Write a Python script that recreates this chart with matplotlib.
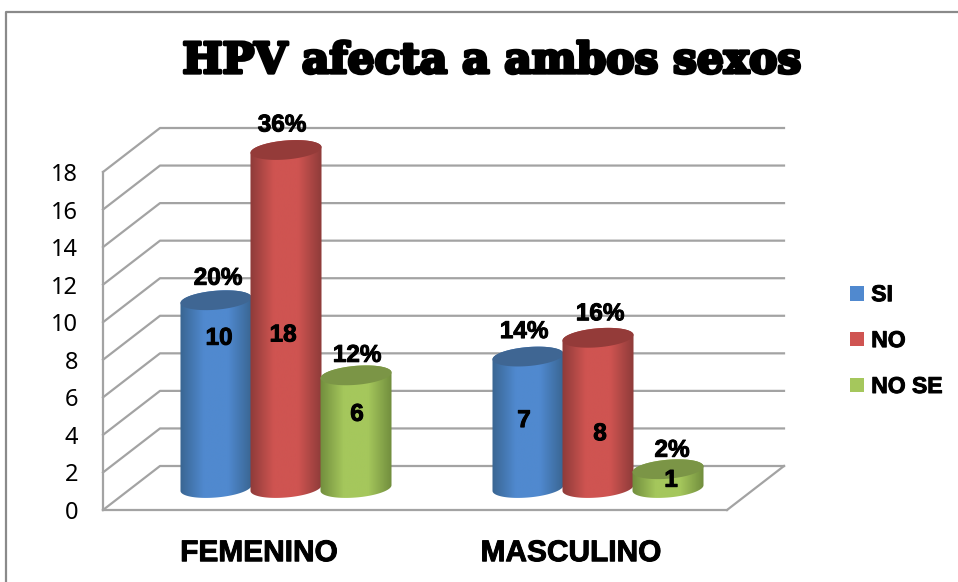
import numpy as np
import matplotlib
matplotlib.use("Agg")
import matplotlib.pyplot as plt
import matplotlib.patheffects as pe
from matplotlib.colors import LinearSegmentedColormap
from matplotlib.lines import Line2D
from matplotlib.patches import Patch, Polygon

categories = ["FEMENINO", "MASCULINO"]
series = ["SI", "NO", "NO SE"]
si_values = [10, 7]
no_values = [18, 8]
nose_values = [6, 1]
si_percent = ["20%", "14%"]
no_percent = ["36%", "16%"]
nose_percent = ["12%", "2%"]
y_ticks = [0, 2, 4, 6, 8, 10, 12, 14, 16, 18]

W, H = 958, 582
GREY = "#a3a3a3"

# colours: edge of cylinder, middle of cylinder, top ellipse
colors = [("#38648f", "#5089cf", "#3f6693"),
          ("#8b3a38", "#cf5451", "#943b39"),
          ("#6f8b3c", "#a5c75c", "#7b9546")]

# label nudges in pixels, one per bar (x, y down from the bar top)
value_nudge = [[(3, 38), (-4, 64)], [(-3, 185), (2, 96)], [(1, 39), (3, 11)]]
pct_nudge = [[(2, 22), (-4, 25)], [(-4, 25), (2, 24)], [(1, 20), (4, 19)]]

bold = [pe.withStroke(linewidth=0.7, foreground="black")]

fig = plt.figure(figsize=(W / 100, H / 100), dpi=100)
ax = fig.add_axes([103 / W, (H - 510) / H, 624 / W, 338 / H])
ax.set_xlim(-0.5, 1.5)
ax.set_ylim(0, 18)

px = 2 / 624    # one pixel in x data units
py = 18 / 338   # one pixel in y data units
depth_x, depth_y = 57 * px, 44 * py

# walls and floor
for k in y_ticks:
    ax.plot([-0.5, -0.5 + depth_x, 1.5 + depth_x], [k, k + depth_y, k + depth_y],
            color=GREY, lw=1.6, clip_on=False, zorder=1)
ax.plot([1.5, 1.5 + depth_x], [0, depth_y], color=GREY, lw=1.6, clip_on=False, zorder=1)

ax.spines["top"].set_visible(False)
ax.spines["right"].set_visible(False)
for side in ["left", "bottom"]:
    ax.spines[side].set_color(GREY)
    ax.spines[side].set_linewidth(1.6)
ax.set_yticks(y_ticks)
ax.set_xticks([0, 1])
ax.set_xticklabels(categories, family="Liberation Sans", weight="bold", fontsize=21.5)
ax.tick_params(axis="x", length=0, pad=21)
ax.tick_params(axis="y", length=0, pad=18, labelsize=17)
for lab in ax.get_yticklabels():
    lab.set_family("Noto Sans")
    lab.set_verticalalignment("center_baseline")
for lab in ax.get_xticklabels():
    lab.set_path_effects(bold)


def ellipse(cx, cy, t):
    rx, ry, tilt = 35.5, 9.5, 0.08
    x = cx + rx * np.cos(t) * px
    y = cy + (ry * np.sin(t) + tilt * rx * np.cos(t)) * py
    return np.column_stack([x, y])


def cylinder(cx, base, value, colors3, z):
    edge, mid, top = colors3
    lower = ellipse(cx, base, np.linspace(np.pi, 2 * np.pi, 60))
    upper = ellipse(cx, base + value, np.linspace(0, np.pi, 60))
    body = Polygon(np.vstack([lower, upper]), closed=True, transform=ax.transData,
                   facecolor="none", edgecolor="none", zorder=z)
    ax.add_patch(body)
    cmap = LinearSegmentedColormap.from_list("c", [edge, mid, mid, edge])
    grad = cmap(np.linspace(0, 1, 128))[None, :, :3]
    im = ax.imshow(grad, extent=[cx - 37 * px, cx + 37 * px, base - 14 * py, base + value + 14 * py],
                   aspect="auto", zorder=z, interpolation="bilinear")
    im.set_clip_path(body)
    im.set_clip_box(fig.bbox)
    cap = Polygon(ellipse(cx, base + value, np.linspace(0, 2 * np.pi, 120)), closed=True,
                  facecolor=top, edgecolor="none", clip_on=False, zorder=z + 0.1)
    ax.add_patch(cap)


all_values = [si_values, no_values, nose_values]
all_percent = [si_percent, no_percent, nose_percent]
base = 22 * py
label_font = dict(family="Liberation Sans", weight="bold", fontsize=17.5, color="black",
                  ha="center", va="center", clip_on=False, path_effects=bold)

for c in range(len(categories)):
    for s in range(len(series)):
        v = all_values[s][c]
        cx = c + (27 + (s - 1) * 70) * px
        cylinder(cx, base, v, colors[s], 3 + s)
        nx, ny = value_nudge[s][c]
        ax.text(cx + nx * px, base + v - ny * py, str(v), zorder=8, **label_font)
        nx, ny = pct_nudge[s][c]
        ax.text(cx + nx * px, base + v + ny * py, all_percent[s][c], zorder=8, **label_font)

ax.set_xlim(-0.5, 1.5)
ax.set_ylim(0, 18)

handles = [Patch(facecolor=col[1], edgecolor="none", label=name) for col, name in zip(colors, series)]
leg = fig.legend(handles=handles, loc="upper left", bbox_to_anchor=(841 / W, 1 - 274 / H), frameon=False,
                 prop=dict(family="Liberation Sans", weight="bold", size=16.5),
                 handlelength=0.62, handleheight=0.62, handletextpad=0.3, labelspacing=1.0,
                 borderpad=0.4, borderaxespad=0)
for t in leg.get_texts():
    t.set_path_effects(bold)

title = fig.text(492 / W, 1 - 61 / H, "HPV afecta a ambos sexos", family="DejaVu Serif", weight="bold",
                 fontsize=30.5, ha="center", va="center", color="black")
title.set_path_effects([pe.withStroke(linewidth=2.4, foreground="black")])

# outer chart frame, runs off the right and bottom of the picture
fig.add_artist(Line2D([6 / W, 6 / W, 1], [0, 1 - 12 / H, 1 - 12 / H], color="#8a8a8a", lw=1.6))

fig.savefig("out.png", dpi=100)
